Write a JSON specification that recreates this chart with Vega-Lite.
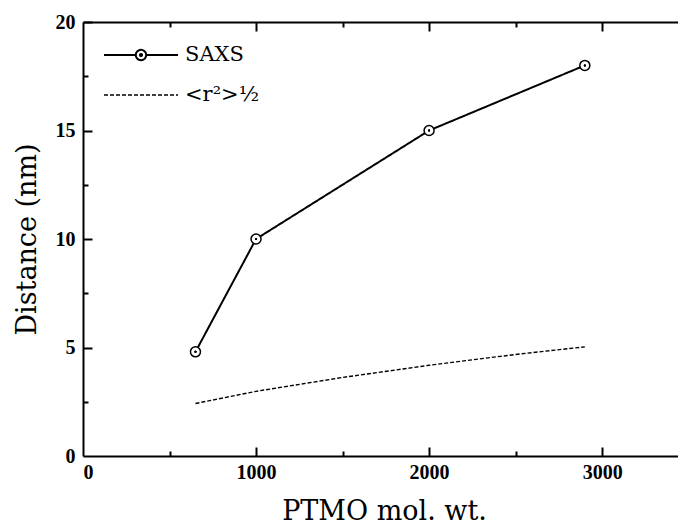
{
  "$schema": "https://vega.github.io/schema/vega-lite/v6.json",
  "width": 597,
  "height": 434,
  "autosize": "none",
  "padding": {"left": 83, "top": 22, "right": 0, "bottom": 69},
  "background": "white",
  "config": {
    "view": {"stroke": null},
    "font": "DejaVu Serif",
    "axis": {
      "grid": false,
      "domainColor": "black",
      "domainWidth": 2,
      "tickColor": "black",
      "tickWidth": 2,
      "labelFont": "Liberation Serif",
      "labelFontSize": 20,
      "labelFontWeight": "bold",
      "labelColor": "black",
      "titleFont": "DejaVu Serif",
      "titleFontSize": 27,
      "titleFontWeight": "normal",
      "titleColor": "black"
    },
    "legend": {
      "labelFont": "DejaVu Serif",
      "labelFontSize": 21,
      "labelColor": "black"
    }
  },
  "datasets": {
    "d": [
      {"mw": 650, "dist": 4.8, "series": "SAXS"},
      {"mw": 1000, "dist": 10, "series": "SAXS"},
      {"mw": 2000, "dist": 15, "series": "SAXS"},
      {"mw": 2900, "dist": 18, "series": "SAXS"},
      {"mw": 650, "dist": 2.42, "series": "<r²>½"},
      {"mw": 1000, "dist": 2.98, "series": "<r²>½"},
      {"mw": 1500, "dist": 3.62, "series": "<r²>½"},
      {"mw": 2000, "dist": 4.18, "series": "<r²>½"},
      {"mw": 2500, "dist": 4.68, "series": "<r²>½"},
      {"mw": 2900, "dist": 5.03, "series": "<r²>½"}
    ]
  },
  "data": {"name": "d"},
  "resolve": {"axis": {"x": "independent", "y": "independent"}},
  "layer": [
    {
      "mark": {"type": "line", "color": "black"},
      "encoding": {
        "x": {
          "field": "mw", "type": "quantitative",
          "scale": {"domain": [0, 3450], "nice": false, "zero": false},
          "axis": {"orient": "bottom", "values": [0, 1000, 2000, 3000], "ticks": false, "labelPadding": 6, "format": "d", "title": "PTMO mol. wt.", "titleY": 63, "titleX": 301, "titleBaseline": "alphabetic", "titleAlign": "center"}
        },
        "y": {
          "field": "dist", "type": "quantitative",
          "scale": {"domain": [0, 20], "nice": false},
          "axis": {"orient": "left", "values": [0, 5, 10, 15, 20], "ticks": false, "labelPadding": 8, "title": "Distance (nm)", "titleX": -48, "titleY": 217, "titleAngle": 270, "titleBaseline": "alphabetic", "titleAlign": "center"}
        },
        "strokeDash": {
          "field": "series", "type": "nominal",
          "scale": {"domain": ["SAXS", "<r²>½"], "range": [[1, 0], [4, 2]]},
          "legend": {
            "title": null,
            "orient": "none",
            "legendX": 20,
            "legendY": 13,
            "padding": 0,
            "symbolType": "stroke",
            "symbolSize": 5476,
            "symbolStrokeWidth": 1.5,
            "symbolStrokeColor": "black",
            "rowPadding": 0,
            "clipHeight": 40,
            "labelOffset": 6,
            "encode": {
              "symbols": {
                "update": {
                  "shape": {"signal": "datum.value === 'SAXS' ? 'M-1,0H-0.14M0.14,0H1M0.14,0A0.14,0.14 0 1,1 -0.14,0A0.14,0.14 0 1,1 0.14,0M0.03,0A0.03,0.03 0 1,1 -0.03,0A0.03,0.03 0 1,1 0.03,0' : 'stroke'"}
                }
              }
            }
          }
        },
        "strokeWidth": {
          "field": "series", "type": "nominal",
          "scale": {"domain": ["SAXS", "<r²>½"], "range": [2, 1.4]},
          "legend": null
        }
      }
    },
    {
      "transform": [{"filter": "datum.series === 'SAXS'"}],
      "mark": {"type": "point", "shape": "circle", "filled": true, "fill": "white", "stroke": "black", "strokeWidth": 1.5, "size": 100, "opacity": 1},
      "encoding": {
        "x": {"field": "mw", "type": "quantitative", "axis": {"orient": "bottom", "values": [1000, 2000, 3000], "tickSize": 9, "offset": -9, "labels": false, "domain": false, "title": null}},
        "y": {"field": "dist", "type": "quantitative", "axis": {"orient": "left", "values": [5, 10, 15, 20], "tickSize": 9, "offset": -9, "labels": false, "domain": false, "title": null}}
      }
    },
    {
      "transform": [{"filter": "datum.series === 'SAXS'"}],
      "mark": {"type": "circle", "color": "black", "size": 4, "opacity": 1},
      "encoding": {
        "x": {"field": "mw", "type": "quantitative", "axis": {"orient": "bottom", "values": [500, 1500, 2500], "tickSize": 5, "offset": -5, "labels": false, "domain": false, "title": null}},
        "y": {"field": "dist", "type": "quantitative", "axis": {"orient": "left", "values": [2.5, 7.5, 12.5, 17.5], "tickSize": 5, "offset": -5, "labels": false, "domain": false, "title": null}}
      }
    },
    {
      "transform": [{"filter": "datum.series === 'SAXS'"}],
      "mark": {"type": "circle", "color": "black", "size": 4, "opacity": 1},
      "encoding": {
        "x": {"field": "mw", "type": "quantitative", "axis": {"orient": "top", "ticks": false, "labels": false, "domain": true, "title": null}},
        "y": {"field": "dist", "type": "quantitative", "axis": null}
      }
    },
    {
      "transform": [{"filter": "datum.series === 'SAXS'"}],
      "mark": {"type": "circle", "color": "black", "size": 4, "opacity": 1},
      "encoding": {
        "x": {"field": "mw", "type": "quantitative", "axis": {"orient": "top", "values": [1000, 2000, 3000], "tickSize": 9, "offset": -9, "labels": false, "domain": false, "title": null}},
        "y": {"field": "dist", "type": "quantitative", "axis": null}
      }
    },
    {
      "transform": [{"filter": "datum.series === 'SAXS'"}],
      "mark": {"type": "circle", "color": "black", "size": 4, "opacity": 1},
      "encoding": {
        "x": {"field": "mw", "type": "quantitative", "axis": {"orient": "top", "values": [500, 1500, 2500], "tickSize": 5, "offset": -5, "labels": false, "domain": false, "title": null}},
        "y": {"field": "dist", "type": "quantitative", "axis": null}
      }
    }
  ]
}
